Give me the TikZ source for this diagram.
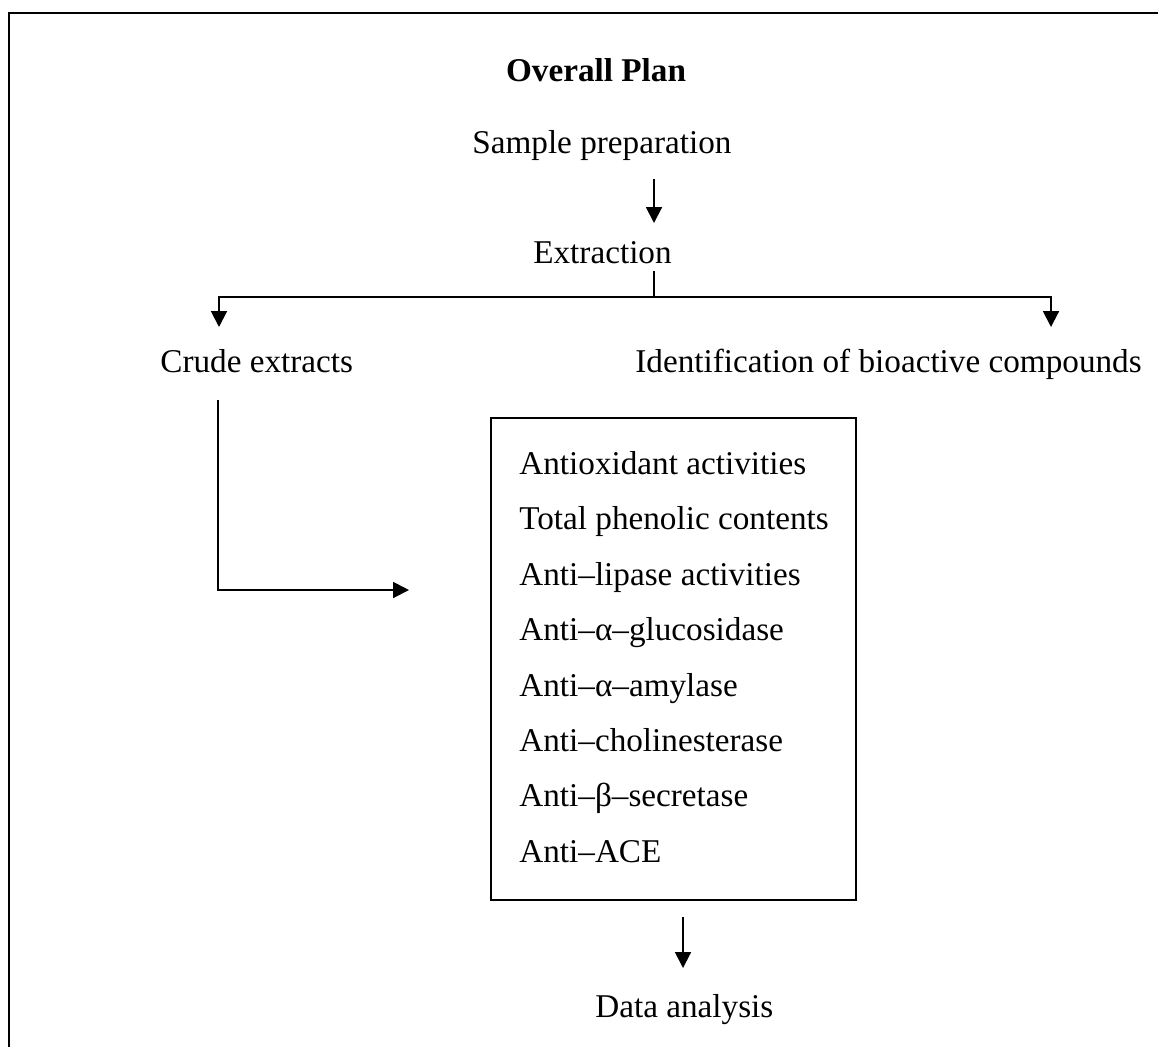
\documentclass[tikz,border=0pt]{standalone}
\usepackage{fontspec}
\setmainfont{Liberation Serif}
\usetikzlibrary{arrows.meta}
\begin{document}
\begin{tikzpicture}[x=0.02cm,y=-0.02cm,
  txt/.style={inner sep=0pt, font=\fontsize{18.9}{22}\selectfont},
  conn/.style={line width=1.1pt},
  arr/.style={conn, -{Triangle[length=9pt,width=9pt]}},
  frame/.style={line width=1.2pt},
]
\useasboundingbox (0,0) rectangle (1158,1046);
\draw[frame] (9,1060) -- (9,13) -- (1170,13);

\node[txt, anchor=base, font=\fontsize{18.9}{22}\selectfont\bfseries] (title) at (596,81) {Overall Plan};
\node[txt, anchor=base west] (sample) at (472,153) {Sample preparation};
\node[txt, anchor=base east] (extr) at (672,263) {Extraction};
\node[txt, anchor=base west] (crude) at (160,372) {Crude extracts};
\node[txt, anchor=base east] (ident) at (1142,372) {Identification of bioactive compounds};

\node[frame, draw, minimum width=7.3cm, minimum height=9.64cm, inner sep=0pt] (box) at (673.5,659) {};
\node[txt, anchor=base west] (l1) at (519,474) {Antioxidant activities};
\node[txt, anchor=base west] (l2) at (519,529.5) {Total phenolic contents};
\node[txt, anchor=base west] (l3) at (519,585) {Anti–lipase activities};
\node[txt, anchor=base west] (l4) at (519,640.5) {Anti–α–glucosidase};
\node[txt, anchor=base west] (l5) at (519,696) {Anti–α–amylase};
\node[txt, anchor=base west] (l6) at (519,751) {Anti–cholinesterase};
\node[txt, anchor=base west] (l7) at (519,806.5) {Anti–β–secretase};
\node[txt, anchor=base west] (l8) at (519,862) {Anti–ACE};

\node[txt, anchor=base west] (data) at (595,1017) {Data analysis};

% sample -> extraction
\coordinate (s1) at (654,179);
\coordinate (s2) at (654,223);
\draw[arr] (s1) -- (s2);

% extraction split
\coordinate (e0) at (654,271);
\coordinate (e1) at (654,297);
\coordinate (eL) at (219,327);
\coordinate (eR) at (1051,327);
\draw[conn] (e0) -- (e1);
\draw[arr] (e1) -| (eL);
\draw[arr] (e1) -| (eR);

% crude -> box
\coordinate (c0) at (218,400);
\coordinate (c1) at (409,590);
\draw[arr] (c0) |- (c1);

% box -> data
\coordinate (b0) at (683,917);
\coordinate (b1) at (683,968);
\draw[arr] (b0) -- (b1);
\end{tikzpicture}
\end{document}
